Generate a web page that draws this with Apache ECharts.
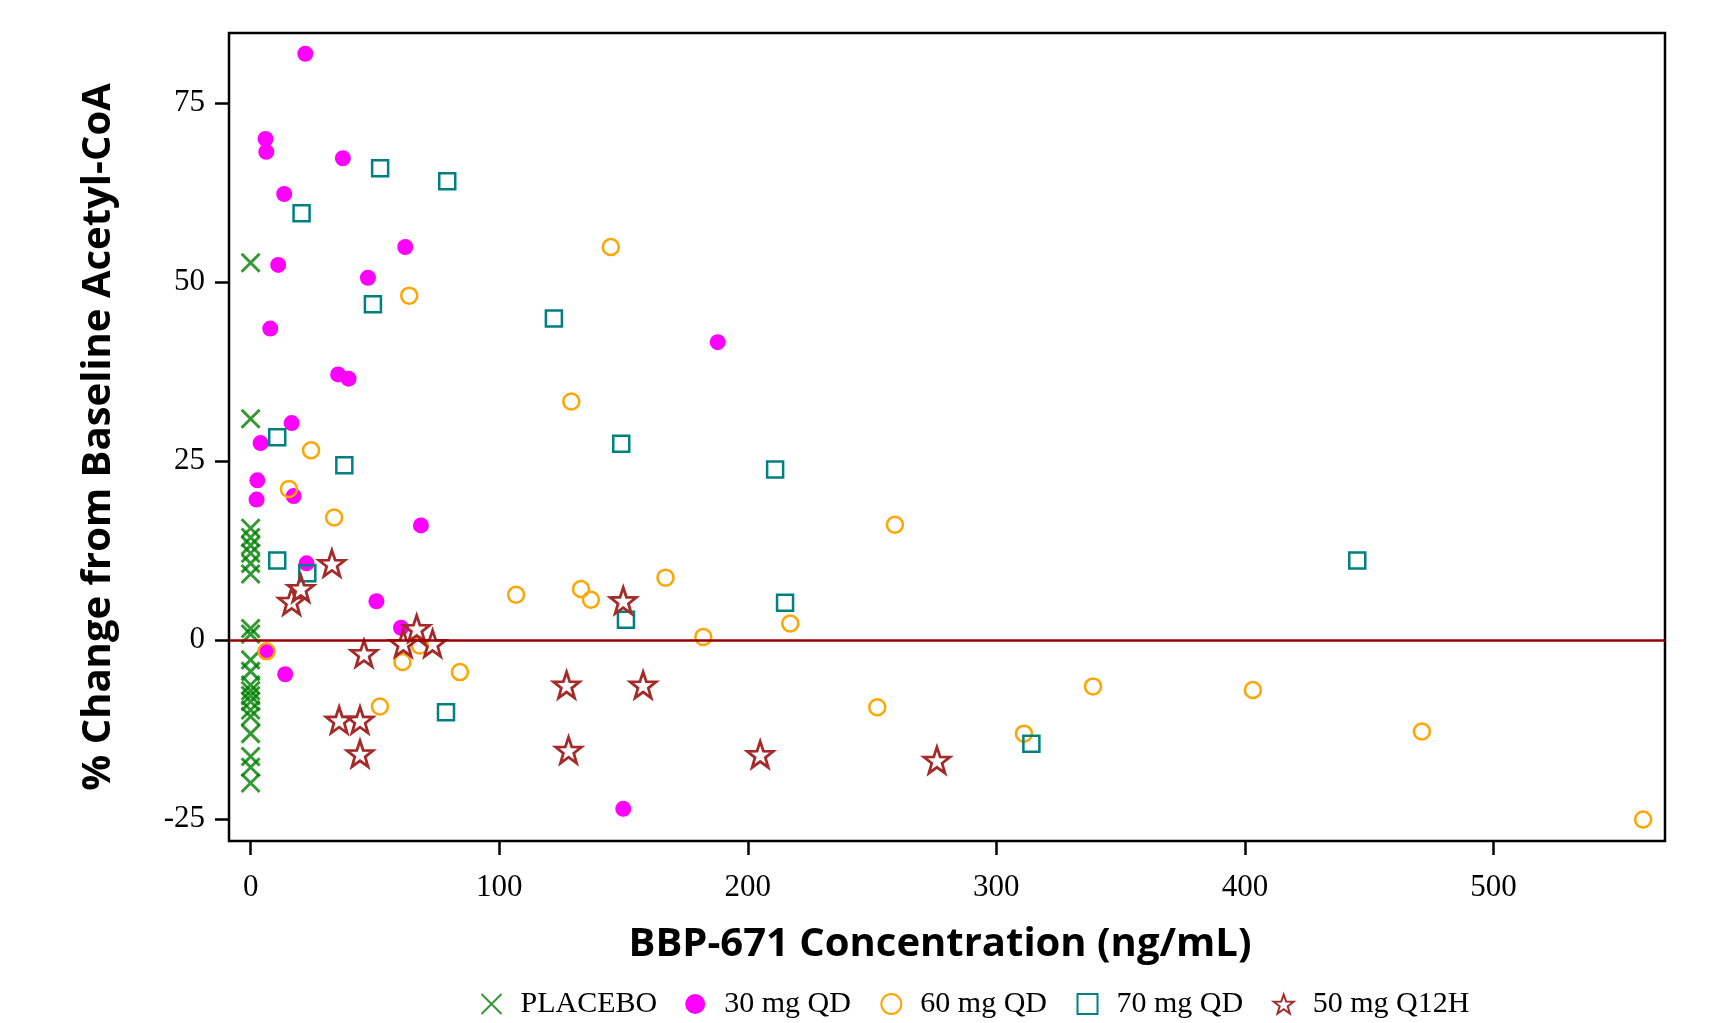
<!DOCTYPE html>
<html>
<head>
<meta charset="utf-8">
<script src="https://cdn.jsdelivr.net/npm/echarts@6/dist/echarts.min.js"></script>
<style>
  html, body { margin: 0; padding: 0; background: #fff; }
  #chart { width: 1722px; height: 1023px; }
</style>
</head>
<body>
<div id="chart"></div>
<script>
  // values
  var placeboX = [0, 0, 0, 0, 0, 0, 0, 0, 0, 0, 0, 0, 0, 0, 0, 0, 0, 0, 0, 0, 0, 0];
  var placeboY = [52.7, 30.9, 15.6, 14.3, 13.2, 12.1, 10.7, 9.2, 1.6, 0.8, -2.8, -4.4, -6.3, -7.1, -7.8, -8.6, -9.8, -10.7, -13.1, -16.3, -17.8, -20.0];

  var qd30X = [22.0, 6.0, 6.3, 37.1, 13.5, 62.2, 11.1, 47.2, 7.9, 187.9, 35.2, 39.4, 16.5, 4.0, 2.7, 17.3, 2.4, 68.5, 22.5, 50.6, 60.5, 6.4, 13.9, 149.9];
  var qd30Y = [81.9, 70.0, 68.2, 67.3, 62.3, 54.9, 52.4, 50.6, 43.5, 41.6, 37.1, 36.5, 30.3, 27.5, 22.3, 20.1, 19.6, 16.0, 10.7, 5.4, 1.7, -1.5, -4.8, -23.6];

  var qd60X = [144.9, 63.8, 129.0, 24.3, 15.4, 33.6, 259.2, 166.9, 132.9, 106.8, 136.9, 217.1, 182.1, 68.1, 6.4, 61.1, 84.2, 338.9, 403.2, 52.0, 252.1, 471.2, 311.1, 560.2];
  var qd60Y = [54.9, 48.1, 33.3, 26.5, 21.1, 17.1, 16.1, 8.7, 7.1, 6.3, 5.6, 2.3, 0.4, -0.8, -1.6, -3.1, -4.5, -6.5, -7.0, -9.3, -9.4, -12.8, -13.1, -25.1];

  var qd70X = [52.1, 79.1, 20.5, 49.2, 122.0, 10.7, 149.1, 37.7, 211.0, 10.7, 445.2, 22.8, 215.0, 151.0, 78.6, 314.1];
  var qd70Y = [65.9, 64.1, 59.6, 46.9, 44.9, 28.3, 27.4, 24.4, 23.8, 11.1, 11.1, 9.3, 5.2, 2.8, -10.1, -14.5];

  var q12hX = [32.7, 20.2, 16.5, 149.9, 66.8, 61.4, 73.2, 45.6, 127.1, 157.9, 35.6, 44.0, 44.0, 127.9, 205.0, 276.1];
  var q12hY = [10.7, 7.2, 5.4, 5.5, 1.6, -0.5, -0.5, -1.9, -6.3, -6.3, -11.2, -11.2, -15.9, -15.4, -16.0, -16.8];

  var xTicks = [0, 100, 200, 300, 400, 500];
  var yTicks = [-25, 0, 25, 50, 75];

  function pairs(xs, ys) {
    return xs.map(function (x, i) { return [x, ys[i]] })
  }

  var crossPath = 'path://M0,0L10,10M10,0L0,10'
  var starPath = 'path://M50,0L61.76,33.82L97.55,34.55L69.02,56.18L79.39,90.45L50,70L20.61,90.45L30.98,56.18L2.45,34.55L38.24,33.82Z'

  var serif = '"Liberation Serif", "Times New Roman", serif'
  var chart = echarts.init(document.getElementById('chart'))
  var option = {
    animation: false,
    backgroundColor: '#fff',
    grid: {
      left: 229, top: 33, right: 57, bottom: 182,
      show: true, borderColor: '#000', borderWidth: 2.5
    },
    xAxis: {
      type: 'value', min: -8.7, max: 569,
      name: 'BBP-671 Concentration (ng/mL)',
      nameLocation: 'middle', nameGap: 84,
      nameTextStyle: { fontFamily: 'Open Sans', fontWeight: 'bold', fontSize: 40, color: '#000', padding: [0, 14, 0, 0] },
      splitLine: { show: false },
      axisLine: { show: false, onZero: false },
      axisTick: { show: true, length: 14, lineStyle: { color: '#000', width: 2.5 }, customValues: xTicks },
      axisLabel: { fontFamily: serif, fontSize: 31, color: '#000', margin: 31, customValues: xTicks }
    },
    yAxis: {
      type: 'value', min: -28.1, max: 84.8,
      name: '% Change from Baseline Acetyl-CoA',
      nameLocation: 'middle', nameGap: 110,
      nameTextStyle: { fontFamily: 'Open Sans', fontWeight: 'bold', fontSize: 40, color: '#000' },
      splitLine: { show: false },
      axisLine: { show: false, onZero: false },
      axisTick: { show: true, length: 14, lineStyle: { color: '#000', width: 2.5 }, customValues: yTicks },
      axisLabel: { fontFamily: serif, fontSize: 31, color: '#000', margin: 24, customValues: yTicks }
    },
    legend: {
      left: 474, top: 984,
      itemWidth: 20, itemHeight: 20, itemGap: 28,
      textStyle: { fontFamily: serif, fontSize: 30, color: '#000', padding: [0, 0, 0, 14] },
      data: ['PLACEBO', '30 mg QD', '60 mg QD', '70 mg QD', '50 mg Q12H']
    },
    series: [
      {
        name: 'PLACEBO', type: 'scatter', symbol: crossPath, symbolSize: 18,
        itemStyle: { color: 'none', borderColor: '#008000', borderWidth: 3 },
        data: pairs(placeboX, placeboY),
        markLine: {
          silent: true, symbol: 'none', label: { show: false },
          lineStyle: { color: '#990000', width: 2.5, type: 'solid' },
          data: [{ yAxis: 0 }]
        }
      },
      {
        name: '30 mg QD', type: 'scatter', symbol: 'circle', symbolSize: 16,
        itemStyle: { color: '#ff00ff', opacity: 1 },
        data: pairs(qd30X, qd30Y)
      },
      {
        name: '60 mg QD', type: 'scatter', symbol: 'circle', symbolSize: 16,
        itemStyle: { color: 'none', borderColor: '#ffa500', borderWidth: 2.5, opacity: 1 },
        data: pairs(qd60X, qd60Y)
      },
      {
        name: '70 mg QD', type: 'scatter', symbol: 'rect', symbolSize: 16,
        itemStyle: { color: 'none', borderColor: '#008080', borderWidth: 2.5, opacity: 1 },
        data: pairs(qd70X, qd70Y)
      },
      {
        name: '50 mg Q12H', type: 'scatter', symbol: starPath, symbolSize: 26,
        itemStyle: { color: 'none', borderColor: '#a52a2a', borderWidth: 2.8, opacity: 1 },
        data: pairs(q12hX, q12hY)
      }
    ]
  }
  chart.setOption(option)
</script>
</body>
</html>
